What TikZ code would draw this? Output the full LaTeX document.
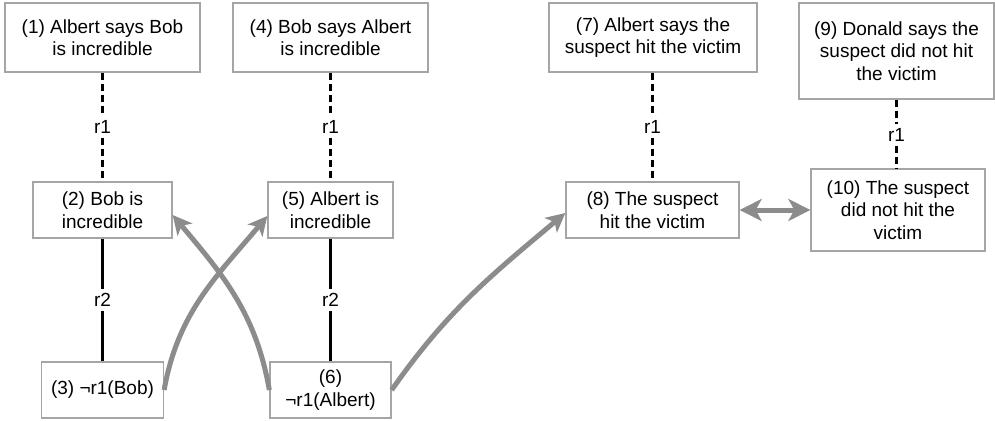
\documentclass[tikz,border=0pt]{standalone}
\usepackage{fontspec}
\setmainfont{Liberation Sans}
\usetikzlibrary{arrows.meta}
\definecolor{boxgray}{RGB}{165,165,165}
\definecolor{arrgray}{RGB}{140,140,140}
\begin{document}
\begin{tikzpicture}[x=1pt,y=-1pt,
 box/.style={draw=boxgray,line width=1.3pt,align=center,inner sep=0pt,font=\fontsize{19}{22.5}\selectfont},
 lbl/.style={inner sep=4pt,font=\fontsize{19}{22}\selectfont},
 rule/.style={draw=black,line width=2.4pt},
 dashrule/.style={rule,dash pattern=on 7pt off 4pt},
 bigarrow/.style={draw=arrgray,line width=5pt,-{Stealth[length=19pt,width=19pt,inset=5pt]}},
 dblarrow/.style={draw=arrgray,line width=5pt,{Stealth[length=22pt,width=22pt,inset=6pt]}-{Stealth[length=22pt,width=22pt,inset=6pt]}},
]
\useasboundingbox (0,0) rectangle (995,420);
\node[box,minimum width=195pt,minimum height=69pt] (b1) at (102.5,37.5) {(1) Albert says Bob\\is incredible};
\node[box,minimum width=195pt,minimum height=69pt] (b4) at (330.5,37.5) {(4) Bob says Albert\\is incredible};
\node[box,minimum width=208pt,minimum height=69pt] (b7) at (653,37.5) {(7) Albert says the\\suspect hit the victim};
\node[box,minimum width=195pt,minimum height=96pt] (b9) at (896.5,51) {(9) Donald says the\\suspect did not hit\\the victim};
\node[box,minimum width=139pt,minimum height=56pt] (b2) at (102.5,210) {(2) Bob is\\incredible};
\node[box,minimum width=125pt,minimum height=56pt] (b5) at (330.5,210) {(5) Albert is\\incredible};
\node[box,minimum width=173pt,minimum height=56pt] (b8) at (652.5,210) {(8) The suspect\\hit the victim};
\node[box,minimum width=174pt,minimum height=82pt] (b10) at (898,210) {(10) The suspect\\did not hit the\\victim};
\node[box,minimum width=122pt,minimum height=56pt] (b3) at (102.5,390) {(3) ¬r1(Bob)};
\node[box,minimum width=121pt,minimum height=56pt] (b6) at (330.5,390) {(6)\\¬r1(Albert)};

\node[lbl] (r1a) at (102.5,127) {r1};
\node[lbl] (r1b) at (330.5,127) {r1};
\node[lbl] (r1c) at (652.5,127) {r1};
\node[lbl] (r1d) at (896.5,135) {r1};
\node[lbl] (r2a) at (102.5,300) {r2};
\node[lbl] (r2b) at (330.5,300) {r2};

\draw[dashrule] (b1) -- (r1a);
\draw[dashrule] (r1a) -- (b2);
\draw[dashrule] (b4) -- (r1b);
\draw[dashrule] (r1b) -- (b5);
\draw[dashrule] (b7.south -| r1c) -- (r1c);
\draw[dashrule] (r1c) -- (r1c |- b8.north);
\draw[dashrule] (b9.south -| r1d) -- (r1d);
\draw[dashrule] (r1d) -- (r1d |- b10.north);
\draw[rule] (b2) -- (r2a);
\draw[rule] (r2a) -- (b3);
\draw[rule] (b5) -- (r2b);
\draw[rule] (r2b) -- (b6);

\draw[bigarrow] (b3.east) to[out=80,in=230] ([yshift=-6pt]b5.west);
\draw[bigarrow] (b6.west) to[out=100,in=-50] ([yshift=-5pt]b2.east);
\draw[bigarrow] (b6.east) to[out=55,in=220] ([yshift=-3pt]b8.west);
\draw[dblarrow] (b8) -- (b10);
\end{tikzpicture}
\end{document}
